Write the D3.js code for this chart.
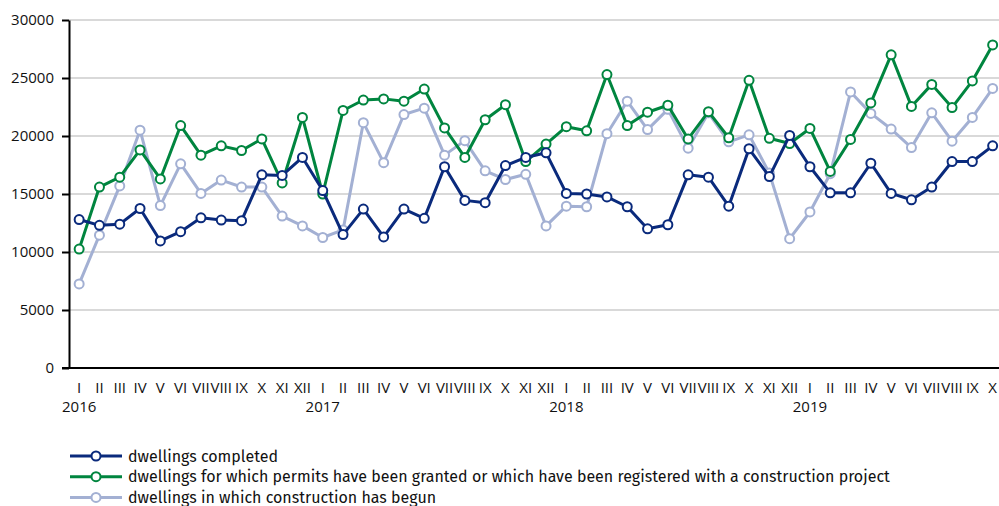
<!DOCTYPE html>
<meta charset="utf-8">
<script src="https://d3js.org/d3.v7.min.js"></script>
<style>
  body { margin: 0; background: #fff; }
  text { font-family: "Fira Sans", "Noto Sans", sans-serif; fill: #111; }
</style>
<div id="my_dataviz"></div>
<script>

// data
var years = ["2016", "2017", "2018", "2019"];
var romans = ["I","II","III","IV","V","VI","VII","VIII","IX","X","XI","XII"];

var completed = [
  12800, 12300, 12400, 13750, 10950, 11750, 12950, 12750, 12700, 16650, 16600, 18150,
  15300, 11500, 13700, 11300, 13700, 12900, 17350, 14450, 14250, 17450, 18150, 18550,
  15050, 15000, 14750, 13900, 12000, 12350, 16650, 16450, 13950, 18900, 16500, 20050,
  17350, 15100, 15100, 17650, 15050, 14500, 15600, 17800, 17800, 19150
];
var permits = [
  10250, 15600, 16450, 18800, 16300, 20900, 18350, 19150, 18750, 19750, 15950, 21600,
  15000, 22200, 23100, 23200, 23000, 24050, 20700, 18150, 21400, 22700, 17800, 19300,
  20800, 20450, 25300, 20900, 22050, 22650, 19750, 22100, 19850, 24800, 19800, 19350,
  20650, 16950, 19700, 22850, 27000, 22550, 24450, 22450, 24750, 27850
];
var begun = [
  7250, 11450, 15700, 20500, 14000, 17600, 15050, 16200, 15600, 15600, 13100, 12250,
  11250, 11900, 21150, 17700, 21850, 22400, 18350, 19600, 17000, 16250, 16700, 12250,
  13950, 13900, 20200, 23000, 20550, 22300, 18950, 22000, 19500, 20100, 16800, 11150,
  13450, 16750, 23800, 21950, 20600, 19000, 22000, 19550, 21600, 24100
];

var seriesNames = [
  "dwellings completed",
  "dwellings for which permits have been granted or which have been registered with a construction project",
  "dwellings in which construction has begun"
];
var colors = ["#0a2a7c", "#00853f", "#a3b0d3"];
var yTicks = [0, 5000, 10000, 15000, 20000, 25000, 30000];

// month keys
var months = [];
years.forEach(function(yr) {
  romans.forEach(function(r, i) { months.push({ key: yr + "-" + r, year: yr, label: r, first: i === 0 }); });
});
months = months.slice(0, completed.length);

var W = 999, H = 506;
var plotLeft = 69, plotTop = 20, plotBottom = 368;

var svg = d3.select("#my_dataviz").append("svg")
  .attr("width", W).attr("height", H);

var x = d3.scaleBand()
  .domain(months.map(function(d) { return d.key; }))
  .range([plotLeft, plotLeft + 46 * 20.3]);

var y = d3.scaleLinear().domain([0, 30000]).range([plotBottom, plotTop]);

// gridlines
svg.append("g").selectAll("line")
  .data(yTicks.filter(function(t) { return t > 0; }))
  .enter().append("line")
    .attr("x1", plotLeft).attr("x2", W)
    .attr("y1", function(d) { return y(d); })
    .attr("y2", function(d) { return y(d); })
    .attr("stroke", "#d9d9d9").attr("stroke-width", 2);

// y axis
var yAxis = svg.append("g")
  .attr("transform", "translate(" + plotLeft + ",0)")
  .call(d3.axisLeft(y).tickValues(yTicks).tickSize(7).tickSizeOuter(0).tickPadding(8).tickFormat(d3.format("d")));
yAxis.select(".domain").attr("stroke", "#000").attr("stroke-width", 2);
yAxis.selectAll(".tick line").attr("stroke", "#000").attr("stroke-width", 2);
yAxis.selectAll("text").style("font-size", "15px").attr("fill", "#111")
  .style("font-family", "'Open Sans', 'Noto Sans', sans-serif");

// x axis line
svg.append("line")
  .attr("x1", plotLeft - 7).attr("x2", W)
  .attr("y1", plotBottom).attr("y2", plotBottom)
  .attr("stroke", "#000").attr("stroke-width", 2);

// month labels
var xl = svg.append("g");
xl.selectAll("text.m")
  .data(months).enter().append("text")
    .attr("class", "m")
    .attr("x", function(d) { return x(d.key) + x.bandwidth() / 2; })
    .attr("y", 393)
    .attr("text-anchor", "middle")
    .style("font-size", "15px")
    .style("font-family", "'Open Sans', 'Noto Sans', sans-serif")
    .text(function(d) { return d.label; });
xl.selectAll("text.y")
  .data(months.filter(function(d) { return d.first; })).enter().append("text")
    .attr("class", "y")
    .attr("x", function(d) { return x(d.key) + x.bandwidth() / 2; })
    .attr("y", 412)
    .attr("text-anchor", "middle")
    .style("font-size", "15px")
    .style("font-family", "'Open Sans', 'Noto Sans', sans-serif")
    .text(function(d) { return d.year; });

// lines and markers
var allSeries = [completed, permits, begun];
var line = d3.line()
  .x(function(d, i) { return x(months[i].key) + x.bandwidth() / 2; })
  .y(function(d) { return y(d); });

[2, 1, 0].forEach(function(s) {
  var g = svg.append("g");
  g.append("path")
    .datum(allSeries[s])
    .attr("fill", "none")
    .attr("stroke", colors[s])
    .attr("stroke-width", 3)
    .attr("stroke-linejoin", "round")
    .attr("d", line);
  g.selectAll("circle")
    .data(allSeries[s]).enter().append("circle")
      .attr("cx", function(d, i) { return x(months[i].key) + x.bandwidth() / 2; })
      .attr("cy", function(d) { return y(d); })
      .attr("r", 4.5)
      .attr("fill", "#fff")
      .attr("stroke", colors[s])
      .attr("stroke-width", 2);
});

// legend
var legend = svg.append("g");
seriesNames.forEach(function(name, i) {
  var ly = 456 + i * 20.7;
  legend.append("line")
    .attr("x1", 70).attr("x2", 122)
    .attr("y1", ly).attr("y2", ly)
    .attr("stroke", colors[i]).attr("stroke-width", 3);
  legend.append("circle")
    .attr("cx", 96).attr("cy", ly).attr("r", 4.5)
    .attr("fill", "#fff").attr("stroke", colors[i]).attr("stroke-width", 2);
  legend.append("text")
    .attr("x", 128).attr("y", ly + 5.5)
    .style("font-size", "16px")
    .text(name);
});

</script>
